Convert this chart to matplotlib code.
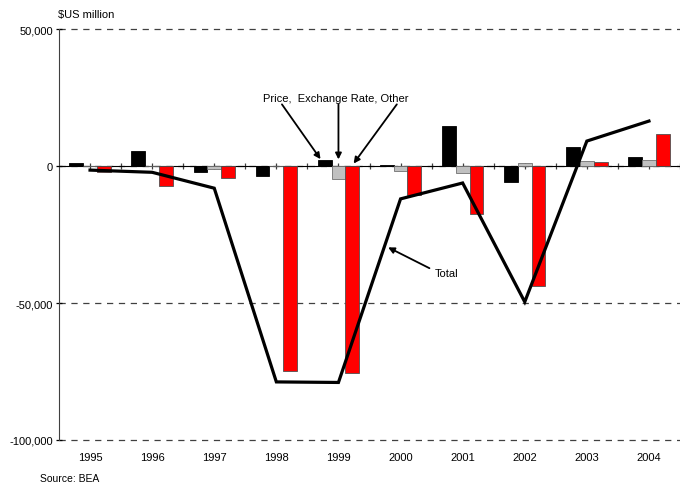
import numpy as np
import matplotlib.pyplot as plt
from matplotlib.ticker import FuncFormatter

plt.rcParams['font.family'] = ['Liberation Sans', 'DejaVu Sans']

years = ["1995", "1996", "1997", "1998", "1999", "2000", "2001", "2002", "2003", "2004"]
price = [1100, 5500, -2200, -3600, 2200, 300, 14600, -5800, 6900, 3300]          # $US million
exchange_rate = [0, 0, -1000, 0, -4700, -1800, -2600, 1000, 1700, 2200]
other = [-2200, -7300, -4400, -74800, -75500, -10700, -17500, -43800, 1300, 11700]
total = [-1500, -2300, -8100, -78800, -79000, -12000, -6200, -49600, 9100, 16400]

x = np.arange(len(years))
w = 0.222

fig = plt.figure(figsize=(6.8, 4.85), dpi=100)
ax = fig.add_axes([59 / 680, 1 - 441 / 485, 621 / 680, 411 / 485])

ax.bar(x - w, price, w, color='black', edgecolor='black', linewidth=0.6, zorder=3)
ax.bar(x, exchange_rate, w, color='#c0c0c0', edgecolor='#707070', linewidth=0.6, zorder=3)
ax.bar(x + w, other, w, color='#ff0000', edgecolor='#505050', linewidth=0.6, zorder=3)
ax.plot(x, total, color='black', linewidth=2.3, zorder=5, solid_joinstyle='miter')

ax.set_xlim(-0.5, -0.5 + 621 / 63)
ax.set_ylim(-100000, 50000)

# dashed gridlines, zero line doubles as the category axis
ax.set_yticks([50000, 0, -50000, -100000])
ax.yaxis.set_major_formatter(FuncFormatter(lambda v, p: f"{int(v):,}"))
ax.grid(axis='y', linestyle=(0, (5, 4.5)), color='#404040', linewidth=0.9, zorder=1)
for gl in ax.get_ygridlines():
    gl.set_clip_on(False)
ax.tick_params(axis='y', direction='inout', length=5, width=0.9, labelsize=8, pad=2)

ax.spines['top'].set_visible(False)
ax.spines['right'].set_visible(False)
ax.spines['left'].set_color('#404040')
ax.spines['bottom'].set_position(('data', 0))
ax.spines['bottom'].set_color('black')
ax.set_xticks(np.arange(0, len(years), 0.5))
ax.set_xticklabels([])
ax.tick_params(axis='x', direction='inout', length=5, width=0.9, color='#404040')

sec = ax.secondary_xaxis(0)
sec.set_xticks(x)
sec.set_xticklabels(years)
sec.tick_params(length=0, labelsize=8, pad=9)
sec.spines['bottom'].set_visible(False)

fig.text(58 / 680, 1 - 15 / 485, "$US million", fontsize=8, va='center', ha='left')
fig.text(40 / 680, 1 - 479 / 485, "Source: BEA", fontsize=7.5, va='center', ha='left')

arrow = dict(arrowstyle='-|>', color='black', lw=1.3, mutation_scale=9, shrinkA=0, shrinkB=0)
i99 = years.index("1999")
ax.text(3.95, 24800, "Price,  Exchange Rate, Other", fontsize=8, ha='center', va='center')
ax.annotate("", xy=(i99 - w * 1.3, price[i99] + 300), xytext=(3.09, 22500), arrowprops=arrow)
ax.annotate("", xy=(i99, 2400), xytext=(i99, 22500), arrowprops=arrow)
ax.annotate("", xy=(i99 + w * 1.1, 900), xytext=(4.94, 22500), arrowprops=arrow)

ax.annotate("Total", xy=(4.8, -29700), xytext=(5.55, -39000), fontsize=8,
            ha='left', va='center',
            arrowprops=dict(arrowstyle='-|>', color='black', lw=1.3, mutation_scale=9,
                            shrinkA=2, shrinkB=0, relpos=(0, 0.7)))

fig.savefig("out.png", dpi=100)
